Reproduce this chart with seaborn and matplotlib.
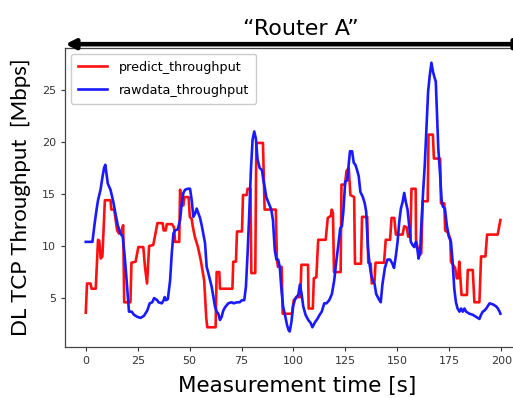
import matplotlib
matplotlib.use("Agg")
import matplotlib.pyplot as plt
import seaborn as sns
import pandas as pd

# predicted throughput (Mbps), step-like
pred_t = [0, 0.6, 2.3, 2.8, 4.8, 5.9, 6.5, 7.2, 8.0, 9.2, 11.9, 12.3, 13.7, 15.1, 16, 17, 18, 18.5,
          21.5, 22, 24, 25.3, 27.7, 28.5, 29.5, 30.5, 32.5, 34.5, 37, 37.5, 38.5, 39, 41.5, 42.5,
          43, 45, 45.4, 46, 47, 47.5, 49.5, 50.1, 51, 51.5, 52.5, 54, 55.3, 57, 58, 58.5, 62.5, 63,
          64.3, 64.6, 70.6, 71, 72.3, 72.8, 75.2, 75.7, 77.5, 77.9, 79.3, 79.7, 81.6, 82.1, 85.3,
          86.1, 91.5, 92, 92.5, 94.3, 94.8, 99.3, 100.1, 101.5, 103.3, 103.8, 107, 107.3, 109.3,
          109.8, 111, 111.9, 115.5, 116.5, 118, 118.4, 119, 119.5, 122.7, 123.1, 124.8, 125.5,
          126.6, 127.4, 129.2, 129.6, 132.5, 133, 135.5, 136, 137.2, 137.7, 139, 139.5, 143.6,
          144.4, 146.5, 147.2, 148.5, 149.3, 152.5, 153.3, 154.5, 155.2, 156.3, 156.8, 158.8, 159,
          159.8, 160.7, 161.5, 162.2, 164.6, 165, 167.1, 167.6, 170.6, 171, 172.6, 173, 174.3,
          175.5, 175.8, 177.8, 178.6, 179.3, 179.8, 180.9, 183.5, 183.9, 186.3, 187.1, 189.5,
          190.3, 192.4, 193.2, 198.3, 199.6]
pred_v = [3.6, 6.4, 6.4, 5.9, 5.9, 10.6, 10.5, 8.8, 9.0, 14.4, 14.4, 13.5, 13.5, 11.5, 11.2, 11.3, 12.0, 4.6,
          4.6, 8.4, 8.5, 9.9, 9.9, 8.0, 6.4, 10.0, 10.1, 12.2, 12.2, 11.5, 11.5, 12.1, 12.1, 11.8,
          10.4, 10.4, 15.4, 13.9, 13.9, 14.7, 14.7, 12.8, 12.6, 11.9, 10.9, 9.9, 8.7, 6.7, 3.1, 2.2, 2.2, 7.5,
          7.5, 5.9, 5.9, 8.5, 8.5, 11.4, 11.4, 14.9, 14.9, 15.5, 15.5, 7.4, 7.4, 19.9, 19.9,
          13.5, 13.5, 8.7, 8.0, 8.0, 3.5, 3.5, 4.8, 5.1, 5.1, 8.2, 8.2, 4.0, 4.0,
          6.9, 7.0, 10.6, 10.6, 12.7, 12.9, 13.5, 13.2, 7.5, 7.5, 15.9, 15.9, 17.2,
          17.5, 14.9, 14.7, 8.3, 8.3, 12.8, 12.8, 8.4, 8.3, 6.4, 6.6, 8.4, 8.4,
          10.6, 10.6, 12.7, 12.7, 11.1, 11.1, 11.9, 11.8, 10.9, 10.9, 15.5, 15.5, 10.6,
          9.8, 9.1, 9.3, 14.3, 14.3, 20.7, 20.7, 18.4, 18.4, 14.1, 14.1, 11.5, 11.3,
          10.7, 8.5, 7.9, 6.9, 6.9, 8.5, 5.3, 5.3, 7.7, 7.7, 4.6, 4.6,
          9.0, 9.0, 11.1, 11.1, 12.5]

# raw measured throughput (Mbps)
raw_t = [0, 3.2, 4.3, 5.2, 5.9, 7.1, 8.1, 8.8, 9.4, 10.6, 11.9, 13.2, 14.3, 15.4, 16.7, 17.8, 18.6,
         19.4, 20.3, 20.8, 22.1, 23.2, 24.8, 26.4, 28.0, 29.6, 30.8, 32, 32.9, 34.4, 35, 36.6, 37.5,
         38, 38.6, 39.5, 40.6, 41.4, 42.2, 43, 44.3, 45.4, 46.2, 47, 47.8, 49.1, 50.2, 51, 51.8,
         52.6, 53.4, 55, 55.8, 57.4, 58.2, 59, 60.6, 62.2, 63, 63.8, 64.6, 65.4, 66.2, 67, 68.6,
         70.2, 71.2, 72.8, 74.1, 75.2, 76.3, 77.1, 77.9, 78.7, 79.5, 80.3, 81.1, 81.9, 82.7, 83.7,
         84.8, 85.6, 86.1, 86.9, 87.7, 88.5, 89.3, 90.1, 91.0, 91.8, 92.6, 93.4, 94.2, 95.0, 96.1,
         96.9, 97.7, 98.2, 99.0, 99.8, 100.6, 101.4, 102.3, 103.1, 103.9, 104.7, 105.8, 107.1,
         108.3, 109.1, 110.4, 111.5, 112.6, 113.6, 114.8, 115.9, 117.2, 118.5, 119.6, 120.7,
         121.7, 122.5, 123.3, 124, 124.9, 125.9, 126.6, 127.2, 128.2, 129, 129.8, 130.6, 131.4,
         132.2, 133.4, 134.3, 135, 135.8, 136.6, 137.4, 138.2, 139, 139.8, 141.1, 142, 142.8,
         144, 145.2, 146.5, 147.6, 148.4, 149.3, 150.1, 150.9, 151.7, 152.5, 153.3, 154.1, 154.9,
         155.7, 156.5, 157.3, 158.1, 158.9, 159.7, 160.2, 161, 161.6, 162.4, 163.2, 164, 164.8,
         165.6, 166.4, 167.2, 168, 168.5, 169, 169.7, 170.5, 171.3, 171.9, 172.9, 173.8, 174.8,
         175.8, 176.6, 177.4, 178.2, 179, 179.9, 180.7, 181.5, 182.3, 183.1, 184.7, 186.3, 187.9,
         189.5, 190.3, 191.1, 191.9, 192.8, 194.4, 196, 197.6, 198.4, 199.2, 199.6]
raw_v = [10.4, 10.4, 12.2, 13.5, 14.4, 15.4, 16.7, 17.5, 17.8, 16.0, 15.4, 14.3, 13.1, 12.0, 11.2, 10.9, 9.3,
         7.4, 5.1, 3.7, 3.7, 3.4, 3.2, 3.1, 3.3, 3.8, 4.5, 4.6, 5.0, 4.8, 4.6, 4.5, 4.8,
         5.1, 4.8, 4.9, 6.7, 9.3, 11.2, 11.5, 11.6, 12.5, 14.1, 15.1, 15.4, 15.5, 15.5, 14.4, 12.8,
         13.1, 13.6, 12.7, 12.0, 10.3, 8.0, 7.4, 6.1, 4.2, 3.7, 3.5, 2.9, 3.2, 3.8, 4.1, 4.5,
         4.6, 4.5, 4.6, 4.6, 4.8, 4.8, 6.1, 9.3, 13.1, 17.3, 20.2, 21.0, 20.3, 18.3, 17.5,
         17.3, 16.2, 15.7, 14.7, 14.3, 13.9, 13.5, 12.5, 9.6, 8.7, 8.7, 8.0, 5.8, 4.2, 3.2,
         2.4, 1.9, 1.8, 2.7, 4.2, 4.8, 5.1, 5.3, 6.3, 5.4, 4.2, 3.4, 2.9,
         2.6, 2.2, 2.7, 3.0, 3.4, 3.7, 4.5, 4.5, 4.8, 5.4, 6.7, 8.7,
         10.3, 11.7, 11.9, 13.3, 16.2, 16.3, 17.9, 19.1, 19.1, 18.0, 17.8, 17.3, 16.7,
         15.2, 14.7, 14.1, 13.3, 9.9, 8.3, 7.2, 6.7, 6.4, 5.4, 4.9, 4.6, 6.3,
         7.9, 8.7, 8.7, 8.3, 7.9, 9.1, 10.4, 12.3, 13.6, 14.2, 15.1, 14.2, 13.5,
         12.0, 10.4, 10.1, 9.9, 10.4, 9.6, 8.8, 9.5, 12.3, 15.2, 17.8, 21.3, 24.8,
         26.4, 27.6, 26.7, 26.1, 25.8, 23.2, 19.4, 17.1, 14.4, 13.8, 13.6, 12.0, 10.9,
         10.4, 8.5, 5.9, 4.6, 4.0, 3.7, 4.0, 3.7, 4.0, 3.7, 3.5, 3.4, 3.2,
         3.0, 3.4, 3.7, 3.8, 4.0, 4.5, 4.4, 4.2, 4.0, 3.7, 3.5]

series_names = ["predict_throughput", "rawdata_throughput"]
x_ticks = [0, 25, 50, 75, 100, 125, 150, 175, 200]
y_ticks = [5, 10, 15, 20, 25]

df = pd.concat([
    pd.DataFrame({"t": pred_t, "v": pred_v, "series": series_names[0]}),
    pd.DataFrame({"t": raw_t, "v": raw_v, "series": series_names[1]}),
], ignore_index=True)

fig = plt.figure(figsize=(5.13, 3.98), dpi=100)
ax = fig.add_axes([0.1267, 0.128, 0.905, 0.751])

sns.lineplot(data=df, x="t", y="v", hue="series", palette=["#ff1010", "#1a1aff"],
             estimator=None, sort=False, linewidth=1.9, ax=ax)

ax.set_xlim(-10, 213.5)
ax.set_ylim(0.3, 29.0)
ax.set_xticks(x_ticks)
ax.set_yticks(y_ticks)
ax.tick_params(labelsize=8, colors="#333333", length=3, width=0.8)
for sp in ax.spines.values():
    sp.set_color("#444444")
    sp.set_linewidth(0.9)
ax.spines["right"].set_visible(False)

ax.set_xlabel("Measurement time [s]", fontsize=15.5, family="DejaVu Sans", labelpad=7)
ax.set_ylabel("DL TCP Throughput  [Mbps]", fontsize=16, family="Lato", labelpad=8)

ax.legend(loc="upper left", fontsize=9.2, frameon=True, handlelength=2.3,
          handletextpad=0.9, borderpad=0.55, labelspacing=0.75, borderaxespad=0.45,
          framealpha=1, edgecolor="#cccccc")

fig.text(0.587, 0.928, "\u201cRouter A\u201d", ha="center", va="center", fontsize=16,
         family="DejaVu Sans")
fig.add_artist(matplotlib.patches.FancyArrowPatch(
    (0.122, 0.889), (1.03, 0.889), transform=fig.transFigure,
    arrowstyle="<|-|>", mutation_scale=14, linewidth=3.3, color="black"))

fig.savefig("out.png", dpi=100)
